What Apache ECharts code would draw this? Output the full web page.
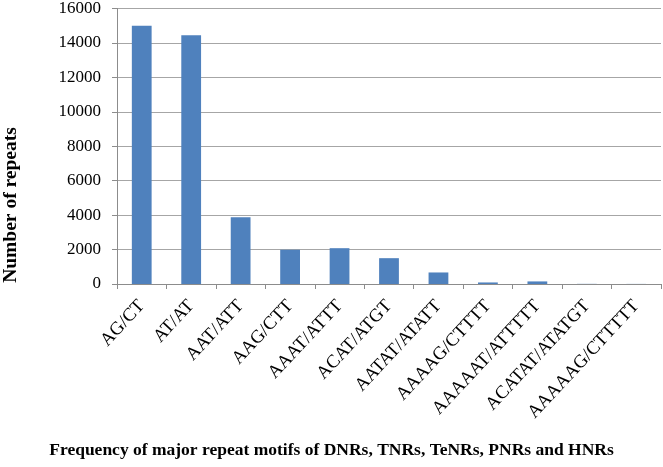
<!DOCTYPE html>
<html><head><meta charset="utf-8">
<script src="https://cdn.jsdelivr.net/npm/echarts@6/dist/echarts.min.js"></script>
<style>html,body{margin:0;padding:0;background:#fff}#c{width:663px;height:467px}</style>
</head><body><div id="c"></div>
<script>
const categories = ['AG/CT','AT/AT','AAT/ATT','AAG/CTT','AAAT/ATTT','ACAT/ATGT','AATAT/ATATT','AAAAG/CTTTT','AAAAAT/ATTTTT','ACATAT/ATATGT','AAAAAG/CTTTTT'];
const repeats = [15000, 14450, 3880, 1990, 2080, 1500, 670, 90, 150, 8, 5];
const yTicks = {min: 0, max: 16000, interval: 2000};
const xTitle = 'Frequency of major repeat motifs of DNRs, TNRs, TeNRs, PNRs and HNRs';
const yTitle = 'Number of repeats';

const serif = '"Liberation Serif","Times New Roman",serif';
const chart = echarts.init(document.getElementById('c'));
chart.setOption({
  animation: false,
  grid: {left: 117, right: 2, top: 8, bottom: 183, containLabel: false},
  graphic: [
    {type: 'text', left: 'center', top: 441, style: {text: xTitle, font: 'bold 17.5px ' + serif, fill: '#000'}},
    {type: 'text', x: 1, y: 205, rotation: Math.PI / 2, style: {text: yTitle, font: 'bold 19.5px ' + serif, fill: '#000', align: 'center', verticalAlign: 'top'}}
  ],
  xAxis: {
    type: 'category', data: categories, boundaryGap: true,
    axisLine: {lineStyle: {color: '#8c8c8c', width: 1}},
    axisTick: {show: true, length: 5, lineStyle: {color: '#8c8c8c'}},
    axisLabel: {rotate: 47, interval: 0, fontFamily: serif, fontSize: 18.5, color: '#000', margin: 19}
  },
  yAxis: {
    type: 'value', min: yTicks.min, max: yTicks.max, interval: yTicks.interval,
    axisLine: {show: true, lineStyle: {color: '#8c8c8c'}},
    axisTick: {show: true, length: 5, lineStyle: {color: '#8c8c8c'}},
    splitLine: {lineStyle: {color: '#a6a6a6', width: 1}},
    axisLabel: {fontFamily: serif, fontSize: 17, color: '#000', margin: 16, formatter: v => String(v)}
  },
  series: [{
    type: 'bar', data: repeats, barWidth: '40%',
    itemStyle: {color: '#4F81BD'}
  }]
});
</script></body></html>
